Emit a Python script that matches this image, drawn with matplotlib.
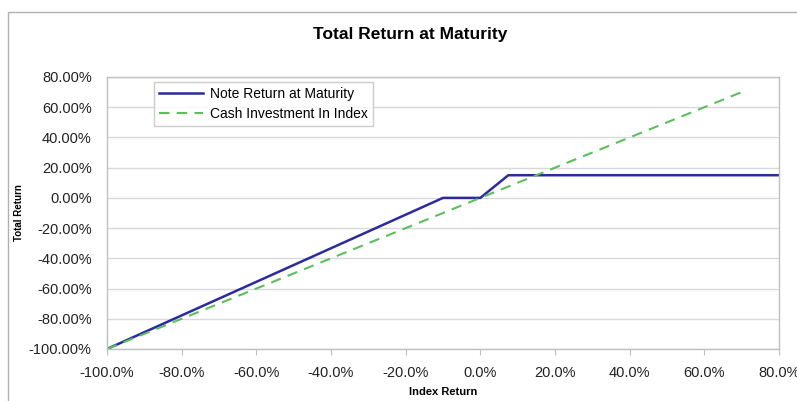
import matplotlib
matplotlib.use("Agg")
import matplotlib.pyplot as plt
from matplotlib.patches import Rectangle
from matplotlib.ticker import FuncFormatter, MultipleLocator

plt.rcParams['font.family'] = ['Liberation Sans', 'DejaVu Sans']

# Data (percent)
index_note = [-100.0, -10.0, 0.0, 7.5, 80.0]
note_return = [-100.0, 0.0, 0.0, 15.0, 15.0]
index_cash = [-100.0, 70.0]
cash_return = [-100.0, 70.0]

title = "Total Return at Maturity"
xlabel = "Index Return"
ylabel = "Total Return"
series_names = ["Note Return at Maturity", "Cash Investment In Index"]

fig = plt.figure(figsize=(7.97, 4.01), dpi=100)
ax = fig.add_axes([107/797, 1-349/401, 672/797, 272/401])

# outer chart border
fig.patches.append(Rectangle((8/797, -0.1), 1.2, 1-12/401+0.1, transform=fig.transFigure,
                             fill=False, edgecolor='#b0b0b0', linewidth=1.0))

ax.plot(index_note, note_return, color='#2b2b9c', linewidth=1.8, label=series_names[0])
ax.plot(index_cash, cash_return, color='#5cbf5c', linewidth=1.5, linestyle=(0, (5, 3.5)),
        label=series_names[1])

ax.set_xlim(-100, 80)
ax.set_ylim(-100, 80)
ax.xaxis.set_major_locator(MultipleLocator(20))
ax.yaxis.set_major_locator(MultipleLocator(20))
ax.xaxis.set_major_formatter(FuncFormatter(lambda v, p: f"{v:.1f}%"))
ax.yaxis.set_major_formatter(FuncFormatter(lambda v, p: f"{v:.2f}%"))

ax.grid(axis='y', color='#d9d9d9', linewidth=1.0)
ax.set_axisbelow(True)
for s in ax.spines.values():
    s.set_color('#c0c0c0')
    s.set_linewidth(1.0)

ax.tick_params(axis='x', direction='out', length=4, color='#c0c0c0', pad=8,
               labelsize=10.5, labelcolor='#222222')
ax.tick_params(axis='y', length=0, pad=11, labelsize=10.5, labelcolor='#222222')

fig.text(410/797, 1-35/401, title, ha='center', va='center', fontsize=12.5, fontweight='bold')
fig.text(443/797, 1-392/401, xlabel, ha='center', va='center', fontsize=8, fontweight='bold')
fig.text(19/797, 1-213/401, ylabel, ha='center', va='center', rotation=90, fontsize=7,
         fontweight='bold')

leg = ax.legend(loc='upper left', bbox_to_anchor=((154-107)/672, (349-82)/272),
                frameon=True, fancybox=False, fontsize=10, handlelength=3.2,
                borderaxespad=0, borderpad=0.35, labelspacing=0.45, handletextpad=0.5)
leg.get_frame().set_edgecolor('#c0c0c0')
leg.get_frame().set_linewidth(1.0)

fig.savefig("out.png", dpi=100)
